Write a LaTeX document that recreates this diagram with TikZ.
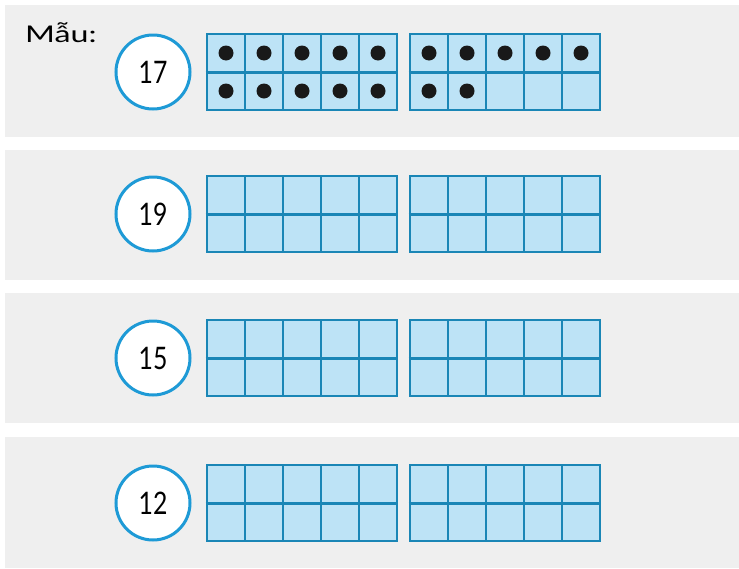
\documentclass[tikz,border=0pt]{standalone}
\usepackage{graphicx}
\usepackage{fontspec}
\setmainfont{Lato}
\usepackage{xcolor}
\definecolor{bandgray}{HTML}{EFEFEF}
\definecolor{cellblue}{HTML}{BDE3F6}
\definecolor{frameblue}{HTML}{1A86B6}
\definecolor{ringblue}{HTML}{1E9AD6}

\begin{document}
\begin{tikzpicture}[x=1pt, y=-1pt,
  band/.style={fill=bandgray, draw=none},
  numcircle/.style={circle, draw=ringblue, line width=3pt, fill=white, minimum size=74pt, inner sep=0pt, font=\fontsize{31}{31}\selectfont},
  cell/.style={draw=frameblue, line width=1.8pt, fill=cellblue, minimum size=38pt, inner sep=0pt},
  tenframe/.style={draw=frameblue, line width=2.8pt, minimum width=190pt, minimum height=76pt, inner sep=0pt},
  midline/.style={draw=frameblue, line width=3pt},
  counter/.style={circle, fill=black!90, minimum size=15pt, inner sep=0pt}
]
\useasboundingbox (0,0) rectangle (739,568);

% Grey bands
\foreach \top/\bot in {5/137, 150/280, 293/423, 437/568}
  \fill[band] (5,\top) rectangle (739,\bot);

% Label
\node[anchor=base west, font=\fontsize{23}{23}\selectfont, inner sep=0pt] (mau) at (25,42) {\scalebox{1.4}[1]{Mẫu:}};

% Numbers and ten-frames
\foreach \n/\cy [count=\r] in {17/72, 19/214, 15/358, 12/503} {
  \node[numcircle] (num-\r) at (153,\cy) {\scalebox{0.8}[1]{\n}};
  \foreach \fx [count=\f] in {207, 410} {
    \foreach \j in {1,...,5} {
      \node[cell] (c-\r-\f-1-\j) at (\fx+38*\j-19,\cy-19) {};
      \node[cell] (c-\r-\f-2-\j) at (\fx+38*\j-19,\cy+19) {};
    }
    \node[tenframe] (frame-\r-\f) at (\fx+95,\cy) {};
    \draw[midline] (frame-\r-\f.west) -- (frame-\r-\f.east);
  }
}

% Counters for the example (17)
\foreach \i in {1,2}
  \foreach \j in {1,...,5}
    \node[counter] at (c-1-1-\i-\j) {};
\foreach \j in {1,...,5}
  \node[counter] at (c-1-2-1-\j) {};
\foreach \j in {1,2}
  \node[counter] at (c-1-2-2-\j) {};
\end{tikzpicture}
\end{document}
